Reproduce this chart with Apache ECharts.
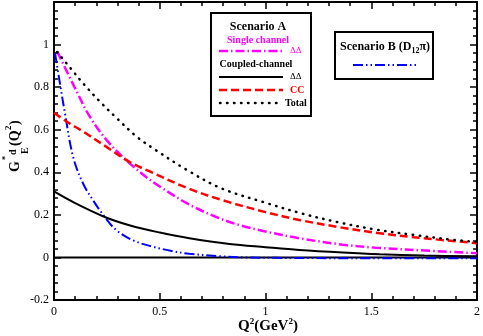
<!DOCTYPE html>
<html>
<head>
<meta charset="utf-8">
<script src="https://cdn.jsdelivr.net/npm/echarts@6/dist/echarts.min.js"></script>
<style>
html,body{margin:0;padding:0;background:#fff;}
#main{width:483px;height:336px;}
</style>
</head>
<body>
<div id="main"></div>
<script>
// Scenario A, coupled-channel Total (dotted)
var totX = [0.015, 0.075, 0.14, 0.22, 0.30, 0.39, 0.48, 0.63, 0.79, 1.0, 1.17, 1.34, 1.52, 1.7, 1.84, 2.0];
var totY = [0.965, 0.893, 0.815, 0.729, 0.651, 0.568, 0.505, 0.41, 0.325, 0.257, 0.207, 0.166, 0.131, 0.106, 0.088, 0.072];
// Scenario A, coupled-channel CC (dashed red)
var ccX = [0, 0.06, 0.14, 0.25, 0.36, 0.45, 0.64, 0.8, 1.0, 1.16, 1.35, 1.53, 1.7, 2.0];
var ccY = [0.68, 0.638, 0.59, 0.518, 0.447, 0.405, 0.322, 0.268, 0.213, 0.176, 0.142, 0.115, 0.095, 0.067];
// Scenario A, single channel DD (magenta dash-dot)
var sgX = [0.015, 0.107, 0.17, 0.25, 0.343, 0.437, 0.5, 0.64, 0.767, 0.877, 1.0, 1.16, 1.365, 1.52, 1.8, 2.0];
var sgY = [0.968, 0.78, 0.66, 0.55, 0.455, 0.377, 0.333, 0.248, 0.19, 0.152, 0.122, 0.09, 0.06, 0.046, 0.03, 0.02];
// Scenario A, coupled-channel DD (solid black)
var ddX = [0, 0.1, 0.24, 0.36, 0.5, 0.64, 0.83, 1.0, 1.16, 1.365, 1.54, 1.75, 2.0];
var ddY = [0.31, 0.255, 0.19, 0.15, 0.117, 0.09, 0.063, 0.048, 0.035, 0.023, 0.015, 0.009, 0.005];
// Scenario B (D12 pi) (blue dash-dot-dot)
var sbX = [0.005, 0.013, 0.031, 0.052, 0.091, 0.138, 0.185, 0.24, 0.296, 0.374, 0.468, 0.56, 0.64, 0.78, 0.9, 1.2, 1.5, 1.8, 2.0];
var sbY = [0.96, 0.91, 0.8, 0.676, 0.47, 0.346, 0.268, 0.19, 0.127, 0.08, 0.05, 0.03, 0.017, 0.006, 0.0, -0.003, -0.004, -0.004, -0.004];

var xTicks = [0, 0.5, 1, 1.5, 2];
var yTicks = [-0.2, 0, 0.2, 0.4, 0.6, 0.8, 1];

var FONT = 'Liberation Serif';

function pairs(xs, ys){
    var out = [];
    for(var i=0;i<xs.length;i++){
        out.push([xs[i], ys[i]]);
    }
    return out;
}

function axisBase(showLabel, pos){
    return {
        position: pos,
        axisLine: {onZero:false, lineStyle:{color:'#000', width:2}},
        axisTick: {inside:true, length:7, lineStyle:{color:'#000', width:1.5}},
        minorTick: {show:true, splitNumber:5, length:4, lineStyle:{color:'#000', width:1.5}},
        splitLine: {show:false},
        minorSplitLine: {show:false},
        axisLabel: {show:showLabel, color:'#000', fontFamily:FONT, fontSize:12, margin:6}
    };
}

var xb = axisBase(true, 'bottom');
xb.type = 'value'; xb.min = xTicks[0]; xb.max = xTicks[xTicks.length-1]; xb.interval = 0.5;
xb.axisLabel.formatter = function(v){ return xTicks.indexOf(v) >= 0 ? String(v) : ''; };
var xt = axisBase(false, 'top');
xt.type = 'value'; xt.min = 0; xt.max = 2; xt.interval = 0.5;

var yl = axisBase(true, 'left');
yl.type = 'value'; yl.min = -0.2; yl.max = 1.2; yl.interval = 0.2;
yl.axisLabel.formatter = function(v){
    var r = Math.round(v*10)/10;
    return yTicks.indexOf(r) >= 0 ? String(r) : '';
};
yl.axisLabel.margin = 5;
var yr = axisBase(false, 'right');
yr.type = 'value'; yr.min = -0.2; yr.max = 1.2; yr.interval = 0.2;

function lineSeries(name, xs, ys, color, width, dash, cap){
    return {
        name: name,
        type: 'line',
        xAxisIndex: 0,
        yAxisIndex: 0,
        showSymbol: false,
        smooth: 0.35,
        silent: true,
        data: pairs(xs, ys),
        lineStyle: {color: color, width: width, type: dash, cap: cap || 'butt'}
    };
}

var option = {
    animation: false,
    grid: {left:54, right:5, top:2, bottom:36, containLabel:false},
    xAxis: [xb, xt],
    yAxis: [yl, yr],
    series: [
        {
            name: 'zero', type:'line', xAxisIndex:0, yAxisIndex:0, showSymbol:false, silent:true,
            data: [[0,0],[2,0]], lineStyle:{color:'#000', width:2}
        },
        lineSeries('Scenario B', sbX, sbY, '#0000ff', 2, [10,3,1.5,3,1.5,3]),
        lineSeries('DD coupled', ddX, ddY, '#000000', 2, 'solid'),
        lineSeries('DD single', sgX, sgY, '#ff00ff', 2.5, [9,3,1.5,3]),
        lineSeries('CC', ccX, ccY, '#ff0000', 2.5, [8,4]),
        lineSeries('Total', totX, totY, '#000000', 2.5, [0.5,6.5], 'round')
    ],
    graphic: [
        // x axis title
        {
            type:'text', x:268, y:326,
            style:{
                text:'{b|Q}{s|2}{b|(GeV}{s|2}{b|)}',
                align:'center', verticalAlign:'middle',
                rich:{
                    b:{fontFamily:FONT, fontWeight:'bold', fontSize:15, lineHeight:18, fill:'#000'},
                    s:{fontFamily:FONT, fontWeight:'bold', fontSize:9, lineHeight:10, verticalAlign:'top', fill:'#000'}
                }
            }
        },
        // y axis title (rotated)
        {
            type:'group', x:16, y:146, rotation:Math.PI/2,
            children:[
                {type:'text', x:-26, y:-1, style:{text:'G', fontFamily:FONT, fontWeight:'bold', fontSize:14, fill:'#000', align:'left', verticalAlign:'middle'}},
                {type:'text', x:-14, y:-10, style:{text:'*', fontFamily:FONT, fontWeight:'bold', fontSize:8, fill:'#000', align:'left', verticalAlign:'middle'}},
                {type:'text', x:-9, y:-3, style:{text:'d', fontFamily:FONT, fontWeight:'bold', fontSize:10, fill:'#000', align:'left', verticalAlign:'middle'}},
                {type:'text', x:-8, y:9, style:{text:'E', fontFamily:FONT, fontWeight:'bold', fontSize:10, fill:'#000', align:'left', verticalAlign:'middle'}},
                {type:'text', x:0, y:-1, style:{text:'(Q', fontFamily:FONT, fontWeight:'bold', fontSize:14, fill:'#000', align:'left', verticalAlign:'middle'}},
                {type:'text', x:16, y:-7, style:{text:'2', fontFamily:FONT, fontWeight:'bold', fontSize:9, fill:'#000', align:'left', verticalAlign:'middle'}},
                {type:'text', x:21, y:-1, style:{text:')', fontFamily:FONT, fontWeight:'bold', fontSize:14, fill:'#000', align:'left', verticalAlign:'middle'}}
            ]
        },
        // legend box A
        {type:'rect', shape:{x:211, y:13, width:100, height:103}, style:{fill:'#fff', stroke:'#000', lineWidth:2}, z:100},
        {type:'text', x:258, y:27, z:101, style:{text:'Scenario A', fontFamily:FONT, fontWeight:'bold', fontSize:12, fill:'#000', align:'center', verticalAlign:'middle'}},
        {type:'text', x:258, y:40, z:101, style:{text:'Single channel', fontFamily:FONT, fontWeight:'bold', fontSize:10, fill:'#ff00ff', align:'center', verticalAlign:'middle'}},
        {type:'line', z:101, shape:{x1:219, y1:51, x2:283, y2:51}, style:{stroke:'#ff00ff', lineWidth:2.5, lineDash:[9,3,1.5,3]}},
        {type:'text', x:290, y:51, z:101, style:{text:'ΔΔ', fontFamily:FONT, fontSize:9, fill:'#ff00ff', align:'left', verticalAlign:'middle'}},
        {type:'text', x:256, y:64, z:101, style:{text:'Coupled-channel', fontFamily:FONT, fontWeight:'bold', fontSize:10, fill:'#000', align:'center', verticalAlign:'middle'}},
        {type:'line', z:101, shape:{x1:219, y1:77, x2:283, y2:77}, style:{stroke:'#000', lineWidth:2}},
        {type:'text', x:290, y:77, z:101, style:{text:'ΔΔ', fontFamily:FONT, fontSize:9, fill:'#000', align:'left', verticalAlign:'middle'}},
        {type:'line', z:101, shape:{x1:219, y1:90, x2:283, y2:90}, style:{stroke:'#ff0000', lineWidth:2.5, lineDash:[8,4]}},
        {type:'text', x:290, y:90, z:101, style:{text:'CC', fontFamily:FONT, fontWeight:'bold', fontSize:10, fill:'#ff0000', align:'left', verticalAlign:'middle'}},
        {type:'line', z:101, shape:{x1:220, y1:103, x2:283, y2:103}, style:{stroke:'#000', lineWidth:2.5, lineDash:[0.5,6.5], lineCap:'round'}},
        {type:'text', x:285, y:103, z:101, style:{text:'Total', fontFamily:FONT, fontWeight:'bold', fontSize:10, fill:'#000', align:'left', verticalAlign:'middle'}},
        // legend box B
        {type:'rect', shape:{x:335, y:32, width:98, height:47}, style:{fill:'#fff', stroke:'#000', lineWidth:2}, z:100},
        {
            type:'text', x:385, y:47, z:101,
            style:{
                text:'{b|Scenario B (D}{s|12}{b|π)}',
                align:'center', verticalAlign:'middle',
                rich:{
                    b:{fontFamily:FONT, fontWeight:'bold', fontSize:12, lineHeight:16, fill:'#000'},
                    s:{fontFamily:FONT, fontWeight:'bold', fontSize:8, lineHeight:9, verticalAlign:'bottom', fill:'#000'}
                }
            }
        },
        {type:'line', z:101, shape:{x1:353, y1:65, x2:418, y2:65}, style:{stroke:'#0000ff', lineWidth:2, lineDash:[10,3,1.5,3,1.5,3]}}
    ]
};

var myChart = echarts.init(document.getElementById('main'));
myChart.setOption(option);
</script>
</body>
</html>
